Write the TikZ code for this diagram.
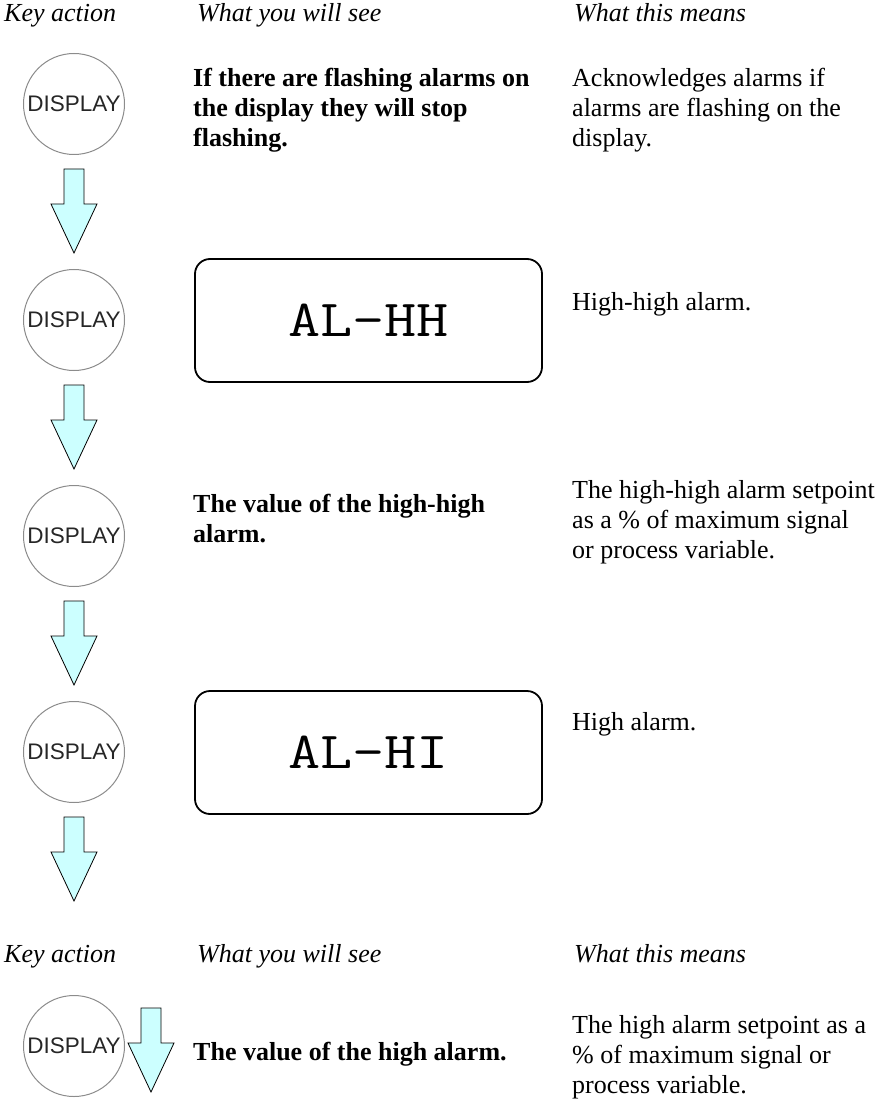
\documentclass[tikz,border=0pt]{standalone}
\usepackage{fontspec}
\usepackage{graphicx}
\setmainfont{Liberation Serif}
\newfontfamily\keyfont{Liberation Sans}
\usetikzlibrary{calc}
\definecolor{arrowfill}{RGB}{204,255,255}
\tikzset{
  keybtn/.style={circle,draw=gray!90,line width=1pt,minimum size=101pt,inner sep=0pt,
    font=\keyfont\fontsize{22.5}{24}\selectfont,text=black!85},
  lcdbox/.style={draw,line width=1.8pt,rounded corners=15pt,minimum width=347pt,
    minimum height=123pt,font=\ttfamily\fontsize{52}{52}\selectfont},
  barrow/.style={draw=black,fill=arrowfill,line width=0.8pt},
  colhead/.style={anchor=base west,inner sep=0pt,font=\fontsize{26}{30}\selectfont\itshape},
  seetext/.style={anchor=base west,align=left,inner sep=0pt,font=\fontsize{26}{30}\selectfont\bfseries},
  meantext/.style={anchor=base west,align=left,inner sep=0pt,font=\fontsize{26}{30}\selectfont},
}
% block arrow hanging from its top centre
\newcommand{\blockarrow}[1]{%
  \draw[barrow] #1 ++(-10,0) -- ++(0,35) -- ++(-13,0) -- ++(23,49) -- ++(23,-49) -- ++(-13,0) -- ++(0,-35) -- cycle;}
\newcommand{\lcd}[1]{\scalebox{1.2}[1]{#1}}

\begin{document}
\begin{tikzpicture}[x=1pt,y=-1pt]
\useasboundingbox (0,0) rectangle (888,1099);

% column headings
\node[colhead] (h1) at (4,22) {Key action};
\node[colhead] (h2) at (197,22) {What you will see};
\node[colhead] (h3) at (574,22) {What this means};

% key presses and arrows
\foreach \i/\y in {1/104,2/320,3/536,4/752}
  \node[keybtn] (k\i) at (74,\y) {DISPLAY};
\foreach \i in {1,...,4}
  \blockarrow{($(k\i.south)+(0,14)$)};

% displays
\node[lcdbox] (d2) at (368.5,320.5) {\lcd{AL-HH}};
\node[lcdbox] (d4) at (368.5,752.5) {\lcd{AL-HI}};

% text (base anchor sits on the last line)
\node[seetext] (s1) at (193,147) {If there are flashing alarms on\\the display they will stop\\flashing.};
\node[meantext] (m1) at (572,147) {Acknowledges alarms if\\alarms are flashing on the\\display.};
\node[meantext] (m2) at (572,310) {High-high alarm.};
\node[seetext] (s3) at (193,542) {The value of the high-high\\alarm.};
\node[meantext] (m3) at (572,558) {The high-high alarm setpoint\\as a \% of maximum signal\\or process variable.};
\node[meantext] (m4) at (572,730) {High alarm.};

% second table
\node[colhead] (h4) at (4,962) {Key action};
\node[colhead] (h5) at (197,962) {What you will see};
\node[colhead] (h6) at (574,962) {What this means};
\node[keybtn] (k5) at (74,1046) {DISPLAY};
\blockarrow{($(k5.east)+(26,-38)$)};
\node[seetext] (s5) at (193,1060) {The value of the high alarm.};
\node[meantext] (m5) at (572,1093) {The high alarm setpoint as a\\\% of maximum signal or\\process variable.};
\end{tikzpicture}
\end{document}
